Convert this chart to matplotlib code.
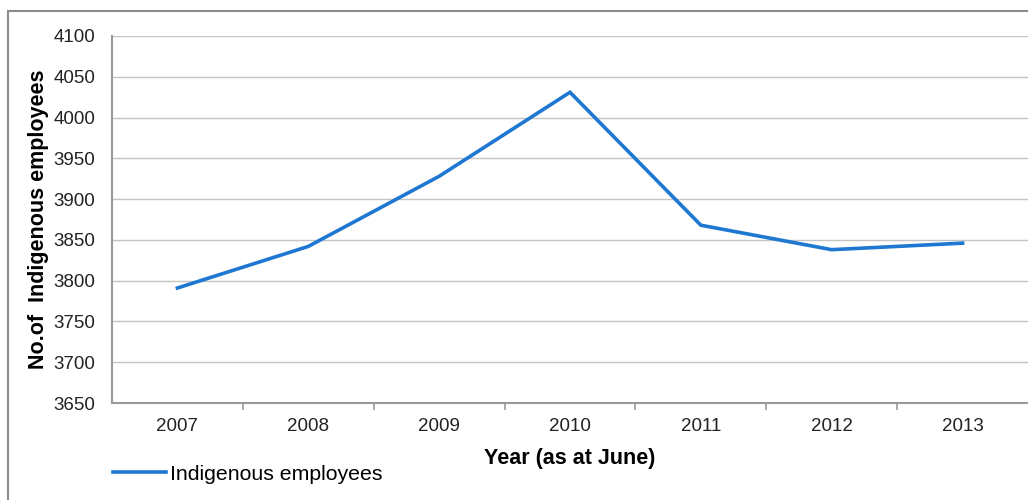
import matplotlib.pyplot as plt
from matplotlib.patches import Rectangle

# Data
years = ['2007', '2008', '2009', '2010', '2011', '2012', '2013']
employees = [3791, 3842, 3928, 4031, 3868, 3838, 3846]

plt.rcParams['font.family'] = ['Liberation Sans', 'DejaVu Sans']

fig = plt.figure(figsize=(10.28, 5.0), dpi=100)
ax = fig.add_axes([112 / 1028, 1 - 403 / 500, 916 / 1028, 367 / 500])

x = list(range(len(years)))
line, = ax.plot(x, employees, color='#1e78d2', linewidth=2.6,
                solid_joinstyle='miter', label='Indigenous employees')

ax.set_xlim(-0.5, len(years) - 0.5)
ax.set_ylim(3650, 4100)
ax.set_yticks(range(3650, 4101, 50))
ax.set_xticks(x)
ax.set_xticklabels(years)
ax.set_xticks([i + 0.5 for i in range(len(years) - 1)], minor=True)

ax.grid(axis='y', color='#c4c4c4', linewidth=1.0)
ax.set_axisbelow(True)
for s in ['top', 'right']:
    ax.spines[s].set_visible(False)
for s in ['left', 'bottom']:
    ax.spines[s].set_color('#999999')
    ax.spines[s].set_linewidth(1.5)

ax.tick_params(axis='x', which='major', length=0, pad=11, labelsize=13.5, colors='#222222')
ax.tick_params(axis='x', which='minor', length=5, width=1.2, color='#999999')
ax.tick_params(axis='y', length=0, pad=12, labelsize=13.5, colors='#222222')

ax.set_xlabel('Year (as at June)', fontsize=15.5, fontweight='bold', labelpad=9)
ax.set_ylabel('No.of  Indigenous employees', fontsize=15.5, fontweight='bold', labelpad=3)

fig.legend(handles=[line], loc='center left', bbox_to_anchor=(94 / 1028, 1 - 474 / 500),
           frameon=False, fontsize=15.3, handlelength=2.5, handletextpad=0.2)

# Outer chart border
fig.patches.append(Rectangle((8 / 1028, -0.1), 1.2, 1.1 - 11 / 500, transform=fig.transFigure,
                             fill=False, edgecolor='#8c8c8c', linewidth=1.5))

fig.savefig('out.png', dpi=100)
